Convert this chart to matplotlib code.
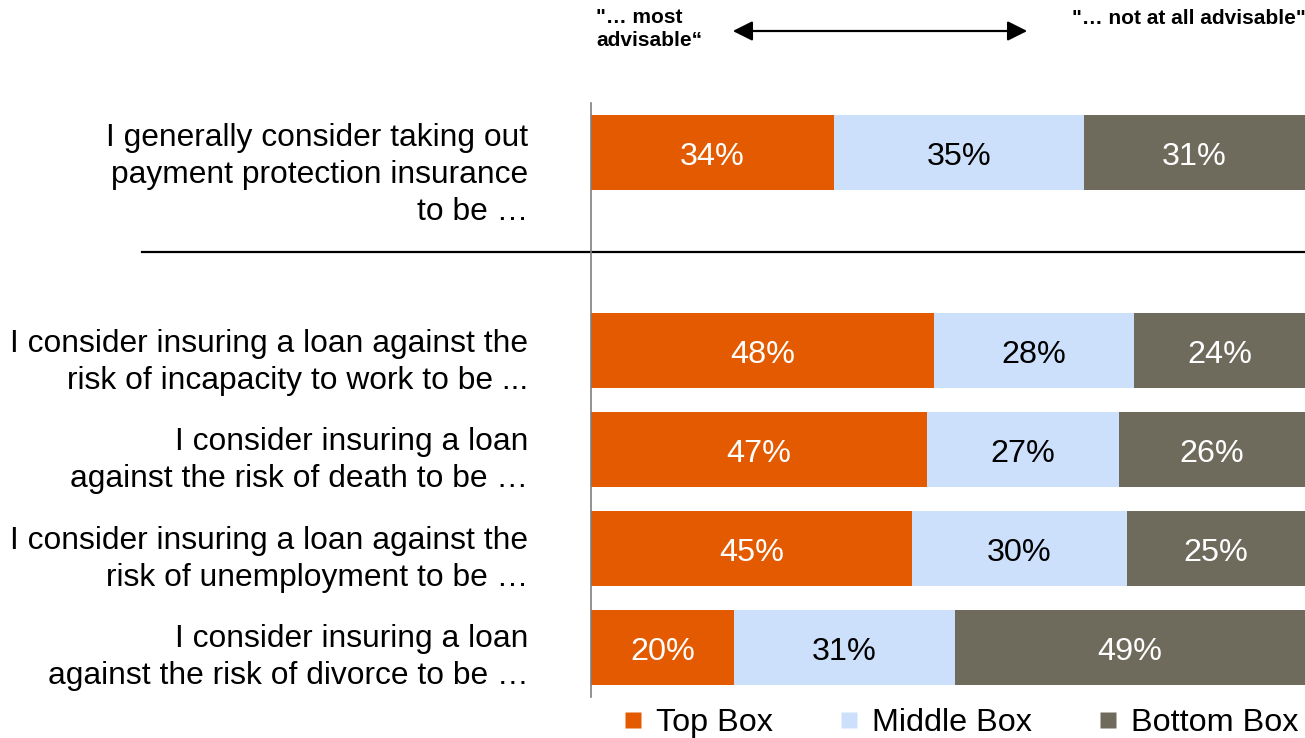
import matplotlib.pyplot as plt
from matplotlib.lines import Line2D
from matplotlib.patches import FancyArrowPatch

plt.rcParams['font.family'] = ['Liberation Sans', 'DejaVu Sans']

# survey statements and answer shares (percent)
statements = [
    "I generally consider taking out\npayment protection insurance\nto be …",
    "I consider insuring a loan against the\nrisk of incapacity to work to be ...",
    "I consider insuring a loan\nagainst the risk of death to be …",
    "I consider insuring a loan against the\nrisk of unemployment to be …",
    "I consider insuring a loan\nagainst the risk of divorce to be …",
]
top_box = [34, 48, 47, 45, 20]
middle_box = [35, 28, 27, 30, 31]
bottom_box = [31, 24, 26, 25, 49]
series_names = ["Top Box", "Middle Box", "Bottom Box"]

# first row stands apart, one empty slot below it
rows = [0, 2, 3, 4, 5]
label_shift = [0.23, 0.12, 0.11, 0.11, 0.1]

colors = ["#E35A00", "#CCE0FC", "#6E6A5C"]
text_colors = ["white", "black", "white"]
fs = 23.3

fig = plt.figure(figsize=(13.05, 7.38), dpi=100)
ax = fig.add_axes([591 / 1305, 41 / 738, 714 / 1305, 594 / 738])

left = [0] * len(rows)
for vals, col, tcol in zip([top_box, middle_box, bottom_box], colors, text_colors):
    bars = ax.barh(rows, vals, left=left, height=0.76, color=col, edgecolor='none')
    for b, v in zip(bars, vals):
        ax.text(b.get_x() + b.get_width() / 2, b.get_y() + b.get_height() / 2 + 0.05,
                f"{v}%", ha='center', va='center', color=tcol, fontsize=fs)
    left = [l + v for l, v in zip(left, vals)]

ax.set_xlim(0, 100)
ax.set_ylim(5.5, -0.5)
ax.set_xticks([])
ax.set_yticks([])
for s in ['top', 'right', 'bottom']:
    ax.spines[s].set_visible(False)
ax.spines['left'].set_color('#7f7f7f')
ax.spines['left'].set_linewidth(1.2)

# statement labels on the left
for r, txt, dy in zip(rows, statements, label_shift):
    ax.text(-8.8, r + dy, txt, ha='right', va='center', fontsize=22.9,
            linespacing=1.31, clip_on=False)

# separator under the general question
ax.plot([-62.9, 100], [1, 1], color='black', lw=1.6, clip_on=False)

# scale header with double arrow
fig.text(596 / 1305, 1 - 8 / 738, "\"… most\nadvisable“", ha='left', va='top',
         fontsize=15, fontweight='bold', linespacing=1.3)
fig.text(1072 / 1305, 1 - 19 / 738, "\"… not at all advisable\"", ha='left', va='center',
         fontsize=15, fontweight='bold')
fig.add_artist(FancyArrowPatch(
    (730 / 1305, 1 - 31 / 738), (1030 / 1305, 1 - 31 / 738),
    transform=fig.transFigure, arrowstyle='<|-|>', mutation_scale=30,
    color='black', lw=1.6))

handles = [Line2D([], [], marker='s', linestyle='none', markersize=12,
                  markerfacecolor=c, markeredgecolor='none') for c in colors]
fig.legend(handles, series_names, loc='center', bbox_to_anchor=(959 / 1305, 15 / 738),
           ncol=3, frameon=False, fontsize=fs, handlelength=0.8, handletextpad=0.3,
           columnspacing=1.96, borderaxespad=0, borderpad=0)

fig.savefig('out.png', dpi=100)
